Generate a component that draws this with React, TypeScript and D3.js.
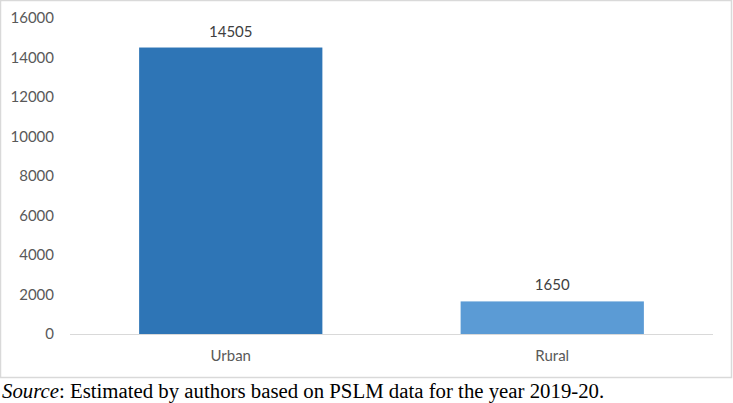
import { useEffect, useRef } from 'react';
import * as d3 from 'd3';

const categories = ['Urban', 'Rural'];
const values = [14505, 1650];
const barColors = ['#2E75B6', '#5B9BD5'];
const yTicks = [0, 2000, 4000, 6000, 8000, 10000, 12000, 14000, 16000];

const width = 733;
const height = 403;
const marginLeft = 70;
const marginRight = 20;
const y0 = 334;
const yTop = 18;
const font = 'Lato, sans-serif';

export default function App() {
  const gy = useRef<SVGGElement>(null);

  const x = d3.scaleBand<string>()
    .domain(categories)
    .range([marginLeft, width - marginRight])
    .paddingInner(0.43)
    .paddingOuter(0.215);

  const y = d3.scaleLinear().domain([0, 16000]).range([y0, yTop]);

  useEffect(() => {
    if (gy.current) {
      d3.select(gy.current)
        .call(d3.axisLeft(y).tickValues(yTicks).tickFormat(d3.format('d')).tickSize(0).tickPadding(0))
        .call(g => g.select('.domain').remove())
        .call(g => g.selectAll('text')
          .attr('fill', '#595959')
          .attr('font-family', font)
          .attr('font-size', 15));
    }
  }, [y]);

  return (
    <svg width={width} height={height} style={{ position: 'fixed', top: 0, left: 0, background: '#fff' }}>
      {/* chart box border */}
      <rect x={0.5} y={0.5} width={731} height={377} fill="none" stroke="#d9d9d9" strokeWidth={1.5} />
      <g ref={gy} transform={`translate(54,0)`} />
      {categories.map((c, i) => (
        <g key={c}>
          <rect x={x(c)} y={y(values[i])} width={x.bandwidth()} height={y0 - y(values[i])} fill={barColors[i]} />
          <text x={x(c)! + x.bandwidth() / 2} y={y(values[i]) - 11} textAnchor="middle"
            fill="#404040" fontFamily={font} fontSize={15}>{values[i]}</text>
          <text x={x(c)! + x.bandwidth() / 2} y={361} textAnchor="middle"
            fill="#595959" fontFamily={font} fontSize={15}>{c}</text>
        </g>
      ))}
      <line x1={marginLeft} x2={width - marginRight} y1={y0 + 0.5} y2={y0 + 0.5} stroke="#d9d9d9" strokeWidth={1} />
      <text x={2} y={398} fontFamily="'Liberation Serif', 'Times New Roman', serif" fontSize={20.8} fill="#000">
        <tspan fontStyle="italic">Source</tspan>: Estimated by authors based on PSLM data for the year 2019-20.
      </text>
    </svg>
  );
}
